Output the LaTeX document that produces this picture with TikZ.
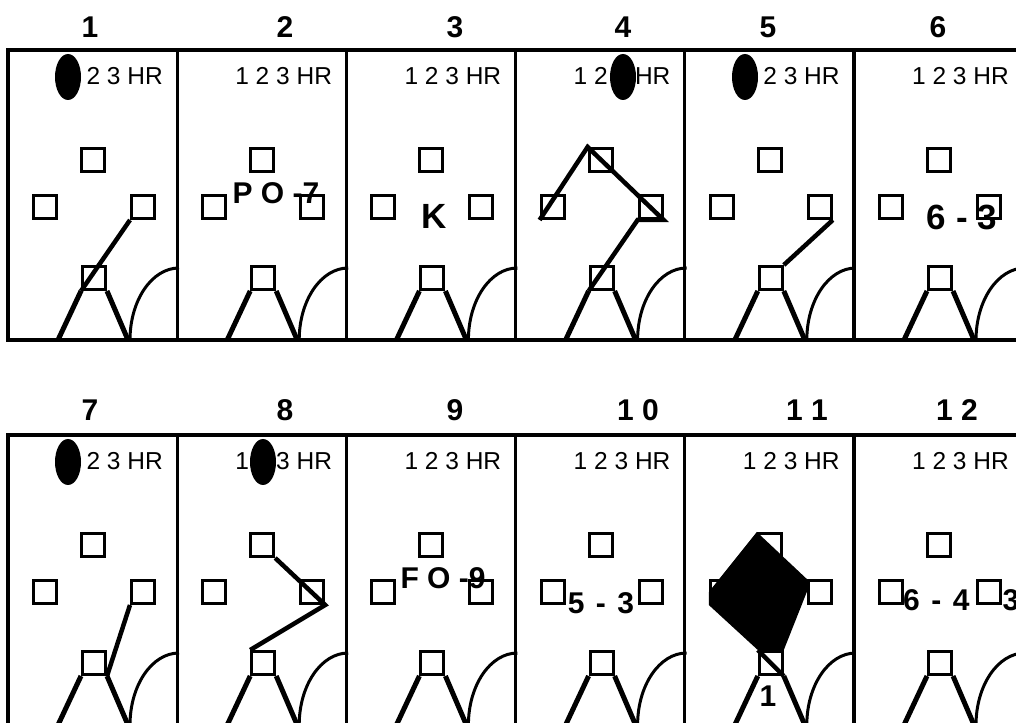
\documentclass[tikz,border=0pt]{standalone}
\usepackage{fontspec}
\setmainfont{Liberation Sans}
\begin{document}
\begin{tikzpicture}[x=1pt, y=1pt,
    base/.style={draw, fill=white, line width=3pt, minimum size=23pt, inner sep=0pt},
    frame/.style={line width=3.2pt},
    leg/.style={line width=5pt},
    hit/.style={line width=4.5pt},
    bags/.style={font=\fontsize{24.5}{24.5}\selectfont, anchor=base east, inner sep=0pt},
    play/.style={font=\fontsize{30}{30}\selectfont\bfseries, inner sep=0pt},
    inning/.style={font=\fontsize{30}{30}\selectfont\bfseries, inner sep=0pt}]
    \useasboundingbox (0,0) rectangle (1016,722);
    \fill[white] (0,0) rectangle (1016,722);

    % inning numbers above the boxes
    \foreach \n/\x/\y/\txt in {1/90/695/1, 2/285/695/2, 3/455/695/3, 4/623/695/4,
        5/768/695/5, 6/938/695/6, 7/90/312/7, 8/285/312/8, 9/455/312/9,
        10/638/312/1 0, 11/807/312/1 1, 12/957/312/1 2}
        \node[inning] (num\n) at (\x,\y) {\txt};

    % lies under the first base of box 12
    \node[play, anchor=west] (play12) at (903,122) {\spaceskip=11.5pt 6 - 4 - 3};

    % the twelve boxes
    \foreach \n in {1,...,12} {
        \pgfmathtruncatemacro\col{mod(\n-1,6)}
        \pgfmathtruncatemacro\row{(\n-1)/6}
        \begin{scope}[shift={(8+169.2*\col,672-385*\row)}]
            \draw[frame] (0,0) rectangle (169.2,-290);
            \node[bags] (bags\n) at (155,-35) {1 2 3 HR};
            \node[base] (s\n) at (85,-110) {};
            \node[base] (f\n) at (135,-157) {};
            \node[base] (t\n) at (37,-157) {};
            \node[base] (h\n) at (86,-228) {};
            \coordinate (lf\n) at (50,-290);
            \coordinate (rf\n) at (120,-290);
            \draw[leg] (h\n.south west) -- (lf\n);
            \draw[leg] (h\n.south east) -- (rf\n);
            \draw[line width=3pt] (122,-290) arc[start angle=180, end angle=90, x radius=49, y radius=72];
        \end{scope}
    }

    % bags reached
    \fill (68,645) ellipse [x radius=13, y radius=23];
    \fill (623,645) ellipse [x radius=13, y radius=23];
    \fill (745,645) ellipse [x radius=13, y radius=23];
    \fill (68,260) ellipse [x radius=13, y radius=23];
    \fill (263,260) ellipse [x radius=13, y radius=23];

    % base paths
    \draw[hit] (h1.south west) -- (f1.south west);
    \draw[hit] (h4.south west) -- (f4.south west) -- (f4.south east) -- (s4.north west) -- (t4.south west);
    \draw[hit] (h5.north east) -- (f5.south east);
    \draw[hit] (h7.south east) -- (f7.south west);
    \draw[hit] (s8.south east) -- (f8.south east) -- (h8.north west);
    \fill (s11.north west) -- (f11.north west) -- (f11.west) -- (h11.north east)
        -- (h11.north west) -- (t11.south west) -- (t11.west) -- cycle;
    \draw[hit] (h11.north west) -- (h11.south east);

    % outs and plays
    \node[play] (play2) at (276,529) {P O -7};
    \node[play, font=\fontsize{35}{35}\selectfont\bfseries] (play3) at (434,506) {K};
    \node[play, font=\fontsize{35}{35}\selectfont\bfseries] (play6) at (962,505) {6 - 3};
    \node[play] (play9) at (443,144) {F O -9};
    \node[play] (play10) at (601,119) {\spaceskip=11.5pt 5 - 3};
    \node[play] (play11) at (768,26) {1};
\end{tikzpicture}
\end{document}
